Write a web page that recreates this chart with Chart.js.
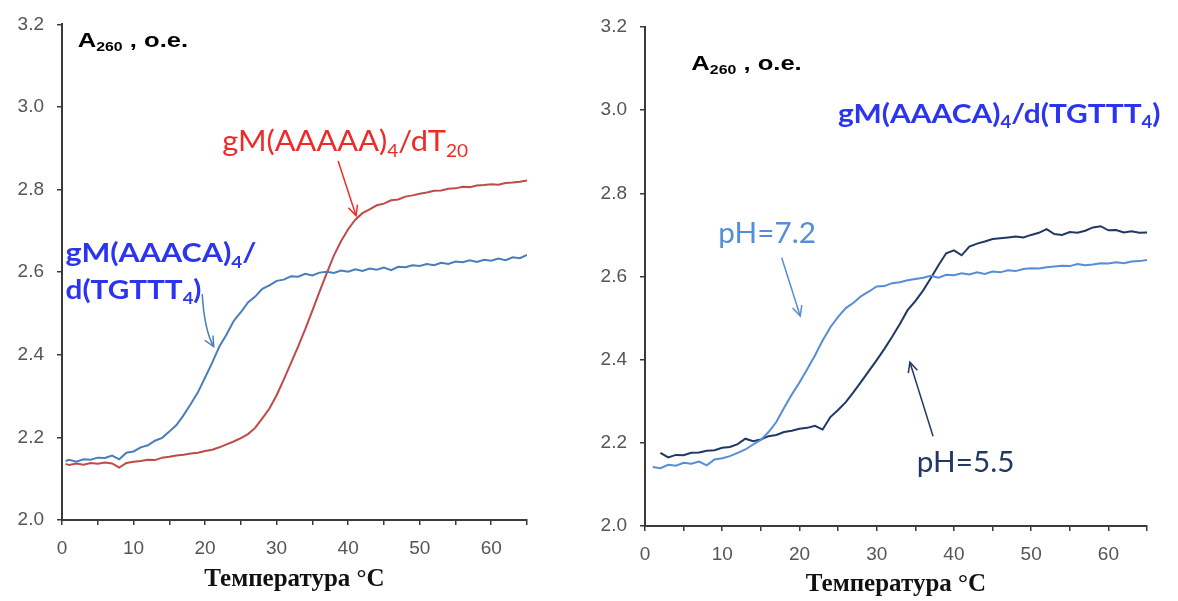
<!DOCTYPE html>
<html>
<head>
<meta charset="utf-8">
<title>Melting curves</title>
<script src="https://cdn.jsdelivr.net/npm/chart.js@4.4.1/dist/chart.umd.min.js"></script>
<style>
    body { margin: 0; background: #ffffff; }
    #wrap { position: relative; width: 1178px; height: 601px; overflow: hidden; }
    #wrap canvas { position: absolute; top: 0; }
    #chartLeft { left: 0; }
    #chartRight { left: 580px; }
</style>
</head>
<body>
<div id="wrap">
    <canvas id="chartLeft" width="560" height="601"></canvas>
    <canvas id="chartRight" width="598" height="601"></canvas>
</div>
<script>
// Left panel: gM(AAACA)4/d(TGTTT4) vs gM(AAAAA)4/dT20
const tempLeft = [0.5, 1, 2, 3, 4, 5, 6, 7, 8, 9, 10, 11, 12, 13, 14, 15, 16, 17, 18, 19, 20,
    21, 22, 23, 24, 25, 26, 27, 28, 29, 30, 31, 32, 33, 34, 35, 36, 37, 38, 39, 40,
    41, 42, 43, 44, 45, 46, 47, 48, 49, 50, 51, 52, 53, 54, 55, 56, 57, 58, 59, 60,
    61, 62, 63, 64, 65];
const absAAACA = [2.143, 2.146, 2.141, 2.147, 2.146, 2.151, 2.150, 2.156, 2.147, 2.163, 2.166,
    2.176, 2.181, 2.192, 2.199, 2.214, 2.230, 2.254, 2.281, 2.309, 2.345,
    2.381, 2.420, 2.449, 2.482, 2.503, 2.527, 2.541, 2.560, 2.568, 2.579,
    2.582, 2.590, 2.589, 2.596, 2.592, 2.599, 2.601, 2.598, 2.604, 2.601,
    2.607, 2.603, 2.609, 2.606, 2.611, 2.605, 2.613, 2.612, 2.617, 2.615,
    2.620, 2.617, 2.623, 2.620, 2.626, 2.624, 2.629, 2.625, 2.630, 2.628,
    2.633, 2.629, 2.636, 2.634, 2.642];
const absAAAAA = [2.136, 2.133, 2.137, 2.134, 2.138, 2.136, 2.139, 2.137, 2.127, 2.138, 2.141,
    2.143, 2.146, 2.145, 2.151, 2.153, 2.156, 2.158, 2.161, 2.163, 2.167,
    2.170, 2.176, 2.183, 2.190, 2.198, 2.208, 2.223, 2.246, 2.270, 2.302,
    2.340, 2.380, 2.420, 2.462, 2.507, 2.553, 2.597, 2.640, 2.675, 2.704,
    2.727, 2.743, 2.752, 2.762, 2.766, 2.774, 2.776, 2.783, 2.786, 2.790,
    2.793, 2.797, 2.798, 2.802, 2.803, 2.807, 2.806, 2.810, 2.811, 2.813,
    2.812, 2.816, 2.817, 2.819, 2.822];

// Right panel: gM(AAACA)4/d(TGTTT4) at two pH values
const tempRight = [1, 2, 3, 4, 5, 6, 7, 8, 9, 10, 11, 12, 13, 14, 15, 16, 17, 18, 19, 20,
    21, 22, 23, 24, 25, 26, 27, 28, 29, 30, 31, 32, 33, 34, 35, 36, 37, 38, 39, 40,
    41, 42, 43, 44, 45, 46, 47, 48, 49, 50, 51, 52, 53, 54, 55, 56, 57, 58, 59, 60,
    61, 62, 63, 64, 65];
const absPH72 = [2.142, 2.139, 2.147, 2.145, 2.152, 2.150, 2.155, 2.146, 2.160, 2.163,
    2.168, 2.176, 2.184, 2.196, 2.207, 2.226, 2.250, 2.284, 2.316, 2.345,
    2.377, 2.410, 2.446, 2.478, 2.503, 2.524, 2.537, 2.553, 2.564, 2.576,
    2.577, 2.584, 2.586, 2.591, 2.594, 2.597, 2.602, 2.597, 2.604, 2.603,
    2.608, 2.605, 2.610, 2.606, 2.612, 2.610, 2.615, 2.613, 2.618, 2.620,
    2.619, 2.622, 2.624, 2.626, 2.625, 2.630, 2.627, 2.629, 2.632, 2.631,
    2.634, 2.632, 2.636, 2.637, 2.640];
const absPH55 = [null, 2.176, 2.165, 2.171, 2.170, 2.176, 2.177, 2.181, 2.182, 2.188,
    2.190, 2.197, 2.210, 2.204, 2.208, 2.216, 2.219, 2.226, 2.229, 2.234,
    2.236, 2.241, 2.232, 2.262, 2.279, 2.298, 2.322, 2.347, 2.373, 2.399,
    2.426, 2.455, 2.486, 2.519, 2.541, 2.566, 2.596, 2.627, 2.656, 2.663,
    2.651, 2.672, 2.679, 2.684, 2.690, 2.692, 2.694, 2.696, 2.694, 2.700,
    2.705, 2.714, 2.702, 2.700, 2.707, 2.705, 2.710, 2.718, 2.721, 2.711,
    2.712, 2.706, 2.709, 2.705, 2.706];

const yTicks = [2.0, 2.2, 2.4, 2.6, 2.8, 3.0, 3.2];
const xTickLabels = [0, 10, 20, 30, 40, 50, 60];
const axisTitle = 'Температура °C';

// Text notes, placed in data units (temperature, absorbance)
const notesLeft = [
    { t: 2.2, a: 3.146, parts: [['A', 0], ['260', 1], [' , o.e.', 0]], font: 'Liberation Sans', size: 20, weight: 'bold', color: '#000000', stretch: 1.28 },
    { t: 22.4, a: 2.893, parts: [['gM(AAAAA)', 0], ['4', 1], ['/dT', 0], ['20', 1]], font: 'Lato', size: 28, weight: 'normal', color: '#f02828', stretch: 1.1 },
    { t: 0.5, a: 2.624, parts: [['gM(AAACA)', 0], ['4', 1], ['/', 0]], font: 'Lato', size: 27, weight: 'bold', color: '#2b35f0', stretch: 1.13 },
    { t: 0.5, a: 2.535, parts: [['d(TGTTT', 0], ['4', 1], [')', 0]], font: 'Lato', size: 27, weight: 'bold', color: '#2b35f0', stretch: 1.1 }
];
const arrowsLeft = [
    { from: [38.6, 2.869], to: [41.1, 2.737], color: '#f02828' },
    { from: [19.6, 2.547], via: [19.9, 2.46], to: [21.2, 2.42], color: '#4a7ebb' }
];
const notesRight = [
    { t: 6.0, a: 3.097, parts: [['A', 0], ['260', 1], [' , o.e.', 0]], font: 'Liberation Sans', size: 20, weight: 'bold', color: '#000000', stretch: 1.28 },
    { t: 25.0, a: 2.969, parts: [['gM(AAACA)', 0], ['4', 1], ['/d(TGTTT', 0], ['4', 1], [')', 0]], font: 'Lato', size: 26, weight: 'bold', color: '#2b35f0', stretch: 1.15 },
    { t: 9.5, a: 2.68, parts: [['pH=7.2', 0]], font: 'Lato', size: 28, weight: 'normal', color: '#558ed5', stretch: 1.06 },
    { t: 35.2, a: 2.13, parts: [['pH=5.5', 0]], font: 'Lato', size: 28, weight: 'normal', color: '#1f3864', stretch: 1.06 }
];
const arrowsRight = [
    { from: [17.7, 2.645], to: [20.1, 2.505], color: '#558ed5' },
    { from: [37.3, 2.216], to: [34.3, 2.394], color: '#1f3864' }
];

function toPoints(xs, ys) {
    return xs.map((x, i) => ({ x: x, y: ys[i] }));
}

function drawRich(ctx, x, y, note) {
    ctx.save();
    ctx.translate(x, y);
    ctx.scale(note.stretch, 1);
    ctx.fillStyle = note.color;
    ctx.textBaseline = 'alphabetic';
    let cx = 0;
    note.parts.forEach(p => {
        const sub = p[1] === 1;
        const s = sub ? note.size * 0.62 : note.size;
        ctx.font = `${note.weight} ${s}px "${note.font}"`;
        ctx.fillText(p[0], cx, sub ? note.size * 0.2 : 0);
        cx += ctx.measureText(p[0]).width;
    });
    ctx.restore();
}

function drawArrow(ctx, xs, ys, arrow) {
    const p0 = [xs.getPixelForValue(arrow.from[0]), ys.getPixelForValue(arrow.from[1])];
    const p1 = [xs.getPixelForValue(arrow.to[0]), ys.getPixelForValue(arrow.to[1])];
    ctx.save();
    ctx.strokeStyle = arrow.color;
    ctx.lineWidth = 1.5;
    ctx.beginPath();
    ctx.moveTo(p0[0], p0[1]);
    let dir;
    if (arrow.via) {
        const c = [xs.getPixelForValue(arrow.via[0]), ys.getPixelForValue(arrow.via[1])];
        ctx.quadraticCurveTo(c[0], c[1], p1[0], p1[1]);
        dir = Math.atan2(p1[1] - c[1], p1[0] - c[0]);
    } else {
        ctx.lineTo(p1[0], p1[1]);
        dir = Math.atan2(p1[1] - p0[1], p1[0] - p0[0]);
    }
    ctx.stroke();
    const head = 11;
    ctx.beginPath();
    ctx.moveTo(p1[0] - head * Math.cos(dir - 0.45), p1[1] - head * Math.sin(dir - 0.45));
    ctx.lineTo(p1[0], p1[1]);
    ctx.lineTo(p1[0] - head * Math.cos(dir + 0.45), p1[1] - head * Math.sin(dir + 0.45));
    ctx.stroke();
    ctx.restore();
}

function notesPlugin(notes, arrows) {
    return {
        id: 'notes',
        afterDatasetsDraw(chart) {
            const ctx = chart.ctx;
            const xs = chart.scales.x;
            const ys = chart.scales.y;
            notes.forEach(n => drawRich(ctx, xs.getPixelForValue(n.t), ys.getPixelForValue(n.a), n));
            arrows.forEach(a => drawArrow(ctx, xs, ys, a));
        }
    };
}

function buildOptions(pad, yWidth, xHeight, titlePad) {
    const axisColor = '#3a3a3a';
    return {
        responsive: false,
        animation: false,
        layout: { padding: pad },
        plugins: { legend: { display: false }, tooltip: { enabled: false } },
        elements: { point: { radius: 0 }, line: { borderWidth: 2, tension: 0 } },
        scales: {
            x: {
                type: 'linear',
                min: 0,
                max: 65,
                border: { color: axisColor, width: 2 },
                grid: { drawOnChartArea: false, drawTicks: true, tickLength: 5, color: axisColor, lineWidth: 1.5 },
                ticks: {
                    stepSize: 5,
                    padding: 12,
                    color: '#555555',
                    font: { family: 'Liberation Sans', size: 19 },
                    maxRotation: 0,
                    autoSkip: false,
                    callback: v => xTickLabels.includes(v) ? String(v) : ''
                },
                title: {
                    display: true,
                    text: axisTitle,
                    color: '#111111',
                    font: { family: 'Liberation Serif', size: 25, weight: 'bold' },
                    padding: { top: 0, bottom: titlePad }
                },
                afterFit: s => { s.height = xHeight; }
            },
            y: {
                min: 2.0,
                max: 3.2,
                border: { color: axisColor, width: 2 },
                grid: { drawOnChartArea: false, drawTicks: true, tickLength: 5, color: axisColor, lineWidth: 1.5 },
                afterBuildTicks: s => { s.ticks = yTicks.map(v => ({ value: v })); },
                ticks: {
                    padding: 13,
                    color: '#555555',
                    font: { family: 'Liberation Sans', size: 19 },
                    callback: v => Number(v).toFixed(1)
                },
                afterFit: s => { s.width = yWidth; }
            }
        }
    };
}

new Chart(document.getElementById('chartLeft'), {
    type: 'line',
    data: {
        datasets: [
            { label: 'gM(AAACA)4/d(TGTTT4)', data: toPoints(tempLeft, absAAACA), borderColor: '#4a7ebb' },
            { label: 'gM(AAAAA)4/dT20', data: toPoints(tempLeft, absAAAAA), borderColor: '#be4b48' }
        ]
    },
    options: buildOptions({ left: 0, right: 33, top: 20, bottom: 0 }, 62, 81, 6),
    plugins: [notesPlugin(notesLeft, arrowsLeft)]
});

new Chart(document.getElementById('chartRight'), {
    type: 'line',
    data: {
        datasets: [
            { label: 'pH=7.2', data: toPoints(tempRight, absPH72), borderColor: '#558ed5' },
            { label: 'pH=5.5', data: toPoints(tempRight, absPH55), borderColor: '#1f3864', spanGaps: true }
        ]
    },
    options: buildOptions({ left: 0, right: 31, top: 27, bottom: 0 }, 65, 75, 1),
    plugins: [notesPlugin(notesRight, arrowsRight)]
});
</script>
</body>
</html>
